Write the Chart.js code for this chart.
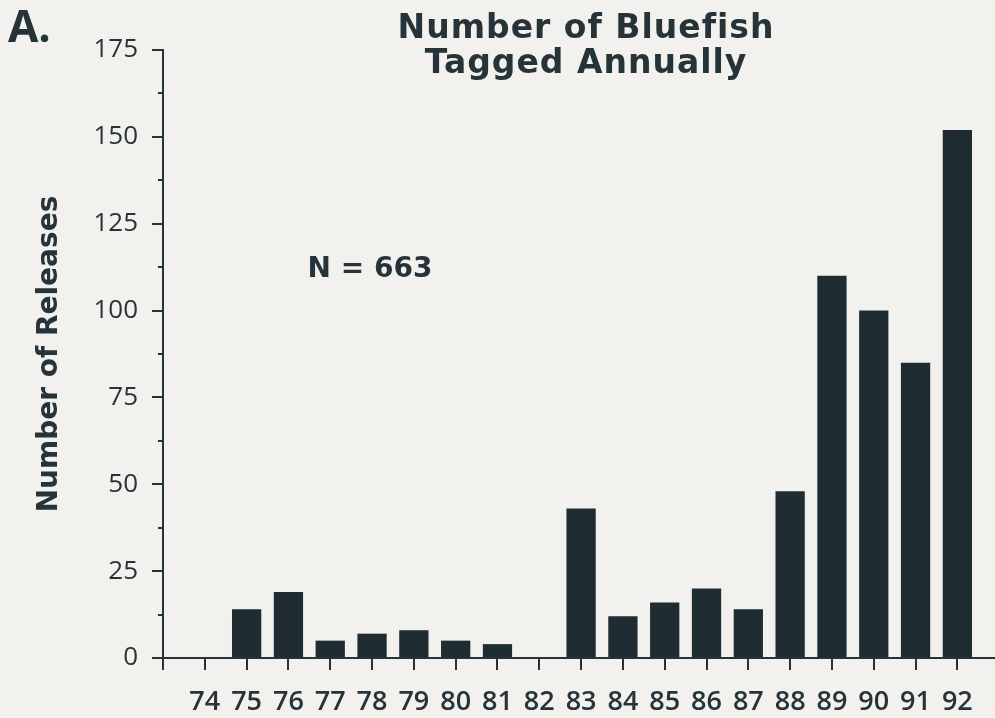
<!DOCTYPE html>
<html>
<head>
<meta charset="utf-8">
<script src="https://cdn.jsdelivr.net/npm/chart.js@4"></script>
<style>
  html, body { margin: 0; padding: 0; background: #f3f1ed; }
  #wrap { width: 995px; height: 718px; position: relative; }
</style>
</head>
<body>
<div id="wrap"><canvas id="chart_bluefish"></canvas></div>
<script>
const years = [74, 75, 76, 77, 78, 79, 80, 81, 82, 83, 84, 85, 86, 87, 88, 89, 90, 91, 92];
const releases = [0, 14, 19, 5, 7, 8, 5, 4, 0, 43, 12, 16, 20, 14, 48, 110, 100, 85, 152];
const yTicks = [0, 25, 50, 75, 100, 125, 150, 175];
const titleLines = ['Number of Bluefish', 'Tagged Annually'];
const panelLabel = 'A.';
const totalLabel = 'N = 663';

const ink = '#263439';
const barColor = '#1f2c31';
const fontFamily = '"Open Sans", "DejaVu Sans", sans-serif';
const wideFont = '"DejaVu Sans", sans-serif';

// the texts that sit over the plot: panel letter, title, N label
const extraText = {
  id: 'extraText',
  afterDraw(chart) {
    const ctx = chart.ctx;
    ctx.save();
    ctx.fillStyle = ink;
    ctx.textBaseline = 'alphabetic';

    ctx.textAlign = 'left';
    ctx.font = 'bold 44px ' + fontFamily;
    ctx.fillText(panelLabel, 8, 42);

    ctx.textAlign = 'center';
    ctx.font = 'bold 33px ' + wideFont;
    ctx.letterSpacing = '1px';
    ctx.fillText(titleLines[0], 586, 38);
    ctx.fillText(titleLines[1], 586, 73);

    ctx.letterSpacing = '0px';
    ctx.font = 'bold 28px ' + wideFont;
    ctx.fillText(totalLabel, 370, 277);
    ctx.restore();
  }
};

new Chart(document.getElementById('chart_bluefish'), {
  type: 'bar',
  data: {
    datasets: [{
      data: years.map((y, i) => ({ x: y, y: releases[i] })),
      backgroundColor: barColor,
      borderWidth: 0,
      barPercentage: 0.7,
      categoryPercentage: 1.0
    }]
  },
  options: {
    responsive: true,
    maintainAspectRatio: false,
    animation: false,
    layout: { padding: { top: 50, right: 0, bottom: 0, left: 0 } },
    plugins: {
      legend: { display: false },
      tooltip: { enabled: false }
    },
    scales: {
      x: {
        type: 'linear',
        min: 73,
        max: 92.9,
        offset: false,
        afterBuildTicks: (scale) => {
          // one tick at the axis origin, then one under every year
          scale.ticks = [73].concat(years).map(v => ({ value: v }));
        },
        afterFit: (scale) => {
          scale.height = 60;
          scale.paddingLeft = 0;
          scale.paddingRight = 0;
        },
        ticks: {
          autoSkip: false,
          maxRotation: 0,
          padding: 16,
          color: ink,
          font: { family: fontFamily, size: 27, weight: '600' },
          callback: (v) => (years.includes(v) ? String(v) : '')
        },
        grid: {
          offset: false,
          drawOnChartArea: false,
          drawTicks: true,
          tickLength: 12,
          lineWidth: 2,
          color: ink
        },
        border: { display: true, color: ink, width: 2 }
      },
      y: {
        min: 0,
        max: 175,
        weight: 1,
        afterFit: (scale) => { scale.width = 163; },
        afterBuildTicks: (scale) => { scale.ticks = yTicks.map(v => ({ value: v })); },
        ticks: {
          padding: 14,
          color: ink,
          font: { family: fontFamily, size: 26, weight: '500' }
        },
        grid: {
          drawOnChartArea: false,
          drawTicks: true,
          tickLength: 11,
          lineWidth: 2,
          color: ink
        },
        border: { display: true, color: ink, width: 2 },
        title: {
          display: true,
          text: 'Number of Releases',
          color: ink,
          font: { family: wideFont, size: 28, weight: 'bold' },
          padding: { top: 33, bottom: 0 }
        }
      },
      yMinor: {
        position: 'left',
        min: 0,
        max: 175,
        weight: 0,
        afterFit: (scale) => { scale.width = 0; },
        ticks: { display: false, stepSize: 12.5 },
        grid: {
          drawOnChartArea: false,
          drawTicks: true,
          tickLength: 5,
          lineWidth: 2,
          color: ink
        },
        border: { display: false }
      }
    }
  },
  plugins: [extraText]
});
</script>
</body>
</html>
